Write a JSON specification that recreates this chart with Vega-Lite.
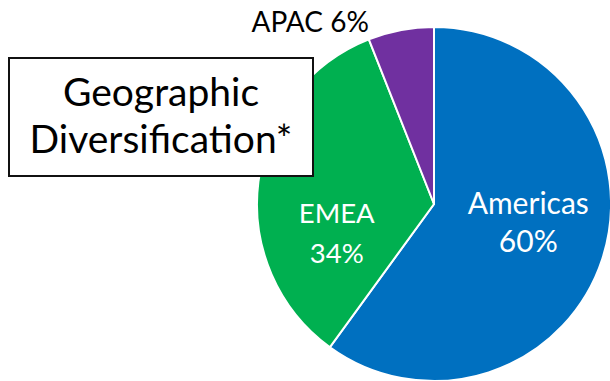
{
  "$schema": "https://vega.github.io/schema/vega-lite/v6.json",
  "background": "white",
  "padding": {"left": 8, "top": 10, "right": 0, "bottom": 0},
  "width": 304,
  "height": 118,
  "config": {"view": {"stroke": null}, "font": "Lato"},
  "data": {"values": [
    {"region": "Americas", "share": 60},
    {"region": "EMEA", "share": 34},
    {"region": "APAC", "share": 6}
  ]},
  "transform": [
    {"stack": "share", "groupby": [], "as": ["start", "end"], "sort": [{"field": "share", "order": "descending"}]},
    {"calculate": "(datum.start + datum.end) / 2", "as": "mid"}
  ],
  "layer": [
    {
      "mark": {"type": "arc", "outerRadius": 177, "stroke": "white", "strokeWidth": 2, "xOffset": 273, "yOffset": 87},
      "encoding": {
        "theta": {"field": "start", "type": "quantitative", "scale": {"domain": [0, 100]}},
        "theta2": {"field": "end"},
        "color": {"field": "region", "type": "nominal", "scale": {"domain": ["Americas", "EMEA", "APAC"], "range": ["#0070C0", "#00B050", "#7030A0"]}, "legend": null}
      }
    },
    {
      "transform": [
        {"filter": "datum.region === 'Americas'"},
        {"calculate": "datum.region + '\\n' + datum.share + '%'", "as": "label"}
      ],
      "mark": {"type": "text", "radius": 97, "xOffset": 273, "yOffset": 87, "dx": 2, "dy": -29, "fontSize": 30, "lineHeight": 38.5, "lineBreak": "\n", "align": "center", "baseline": "middle", "color": "white"},
      "encoding": {
        "theta": {"field": "mid", "type": "quantitative", "scale": {"domain": [0, 100]}},
        "text": {"field": "label"}
      }
    },
    {
      "transform": [
        {"filter": "datum.region === 'EMEA'"},
        {"calculate": "datum.region + '\\n' + datum.share + '%'", "as": "label"}
      ],
      "mark": {"type": "text", "radius": 97, "xOffset": 273, "yOffset": 87, "dx": -1, "dy": 23, "fontSize": 27.5, "lineHeight": 40, "lineBreak": "\n", "align": "center", "baseline": "middle", "color": "white"},
      "encoding": {
        "theta": {"field": "mid", "type": "quantitative", "scale": {"domain": [0, 100]}},
        "text": {"field": "label"}
      }
    },
    {
      "transform": [
        {"filter": "datum.region === 'APAC'"},
        {"calculate": "datum.region + ' ' + datum.share + '%'", "as": "label"}
      ],
      "mark": {"type": "text", "radius": 186, "xOffset": 273, "yOffset": 87, "dx": -89, "dy": 3, "fontSize": 28, "align": "center", "baseline": "middle", "color": "#000000"},
      "encoding": {
        "theta": {"field": "mid", "type": "quantitative", "scale": {"domain": [0, 100]}},
        "text": {"field": "label"}
      }
    },
    {
      "transform": [{"filter": "datum.region === 'Americas'"}],
      "mark": {"type": "rect", "fill": "white", "stroke": "#111111", "strokeWidth": 2}
    },
    {
      "transform": [{"filter": "datum.region === 'Americas'"}],
      "mark": {"type": "text", "text": "Geographic", "fontSize": 39, "align": "center", "baseline": "alphabetic", "dy": -11, "color": "#000000"}
    },
    {
      "transform": [{"filter": "datum.region === 'Americas'"}],
      "mark": {"type": "text", "text": "Diversification*", "fontSize": 39, "align": "center", "baseline": "alphabetic", "dy": 36, "color": "#000000"}
    }
  ]
}
